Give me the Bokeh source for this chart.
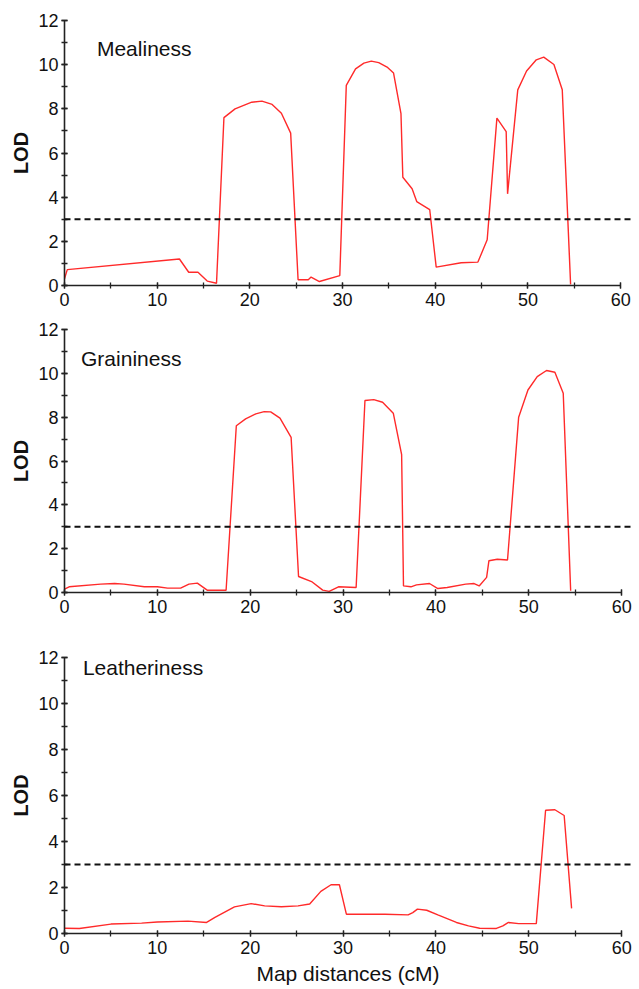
from bokeh.plotting import figure
from bokeh.layouts import column
from bokeh.models import Span, Label, SingleIntervalTicker, ColumnDataSource
from bokeh.embed import file_html
from bokeh.resources import INLINE

# ---- data ----
mealiness_x = [0, 0.3, 12.4, 13.4, 14.4, 15.4, 16.4, 17.2, 18.4, 20.2, 21.3, 22.4, 23.4, 24.4,
               25.2, 26.3, 26.6, 27.5, 29.7, 30.4, 31.4, 32.3, 33.1, 33.9, 34.8, 35.5, 36.3,
               36.5, 37.5, 38.0, 39.4, 40.1, 42.8, 44.6, 45.6, 46.65, 47.65, 47.8, 48.9, 49.85,
               50.9, 51.7, 52.8, 53.7, 54.6]
mealiness_lod = [0.3, 0.72, 1.2, 0.6, 0.6, 0.2, 0.1, 7.6, 8.0, 8.3, 8.35, 8.2, 7.8, 6.9,
                 0.26, 0.26, 0.38, 0.18, 0.45, 9.06, 9.81, 10.07, 10.16, 10.09, 9.89, 9.62, 7.78,
                 4.9, 4.38, 3.8, 3.44, 0.83, 1.03, 1.06, 2.07, 7.58, 6.97, 4.15, 8.86, 9.71,
                 10.22, 10.34, 10.01, 8.86, 0.05]

graininess_x = [0, 0.5, 3.9, 5.4, 6.4, 8.6, 10.0, 11.1, 12.5, 13.4, 14.3, 15.4, 17.4, 18.5,
                19.5, 20.6, 21.5, 22.2, 23.2, 24.4, 25.2, 26.6, 27.8, 28.5, 29.5, 31.4, 32.35,
                33.3, 34.25, 35.4, 36.3, 36.5, 37.3, 37.9, 39.3, 40.2, 41.2, 43.2, 44.1, 44.65,
                45.45, 45.7, 46.6, 47.7, 48.9, 49.9, 50.9, 51.9, 52.8, 53.7, 54.5]
graininess_lod = [0.15, 0.26, 0.38, 0.41, 0.38, 0.26, 0.26, 0.2, 0.2, 0.38, 0.43, 0.1, 0.1, 7.61,
                  7.92, 8.15, 8.25, 8.24, 7.96, 7.08, 0.73, 0.5, 0.11, 0.05, 0.26, 0.23, 8.76,
                  8.8, 8.68, 8.18, 6.29, 0.3, 0.26, 0.35, 0.41, 0.18, 0.23, 0.38, 0.41, 0.3,
                  0.69, 1.45, 1.52, 1.48, 8.0, 9.24, 9.85, 10.13, 10.05, 9.09, 0.08]

leatheriness_x = [0, 1.6, 5.0, 8.3, 10.0, 13.3, 15.3, 16.2, 18.3, 20.1, 21.55, 23.35, 25.15,
                  26.4, 27.6, 28.7, 29.6, 30.35, 34.5, 37.0, 37.5, 38.0, 39.0, 40.2, 42.2, 43.5,
                  44.7, 46.5, 47.2, 47.8, 48.9, 50.8, 51.8, 52.8, 53.8, 54.6]
leatheriness_lod = [0.23, 0.22, 0.41, 0.45, 0.5, 0.54, 0.48, 0.7, 1.16, 1.3, 1.2, 1.16, 1.2,
                    1.28, 1.83, 2.12, 2.12, 0.84, 0.84, 0.81, 0.91, 1.06, 1.01, 0.81, 0.48, 0.33,
                    0.23, 0.22, 0.33, 0.48, 0.43, 0.43, 5.36, 5.38, 5.13, 1.09]

traits = ["Mealiness", "Graininess", "Leatheriness"]
LOD_THRESHOLD = 3.0
X_MAX, Y_MAX = 60, 12

FONT = "Liberation Sans"

def make_panel(name, xs, ys, height, top, bottom, right, x_end, label_pos, xlabel=None):
    p = figure(output_backend="svg", toolbar_location=None,
               width=639, height=height,
               x_range=(0, x_end), y_range=(0, Y_MAX),
               min_border_left=64, min_border_right=right,
               min_border_top=top, min_border_bottom=bottom,
               background_fill_color="white", border_fill_color="white")
    p.outline_line_color = None
    p.grid.visible = False

    src = ColumnDataSource(dict(x=xs, y=ys))
    p.line("x", "y", source=src, line_color="#ff2a2a", line_width=1.4)
    p.add_layout(Span(location=LOD_THRESHOLD, dimension="width", line_color="#111111",
                      line_width=2, line_dash="6 4"))

    p.xaxis.ticker = SingleIntervalTicker(interval=10, num_minor_ticks=2)
    p.yaxis.ticker = SingleIntervalTicker(interval=2, num_minor_ticks=2)
    p.xaxis.bounds = (0, X_MAX)
    p.yaxis.bounds = (0, Y_MAX)
    for ax in (p.xaxis, p.yaxis):
        ax.axis_line_color = "#222222"
        ax.axis_line_width = 1.6
        ax.major_tick_line_color = "#222222"
        ax.minor_tick_line_color = "#222222"
        ax.major_tick_line_width = 1.3
        ax.minor_tick_line_width = 1.3
        ax.major_tick_in = 3
        ax.major_tick_out = 3
        ax.minor_tick_in = 3
        ax.minor_tick_out = 3
        ax.major_label_text_font = FONT
        ax.major_label_text_font_size = "18px"
        ax.major_label_text_color = "#111111"
    p.yaxis.major_label_standoff = 3
    p.xaxis.major_label_standoff = 4
    p.yaxis.axis_label = "LOD"
    p.yaxis.axis_label_text_font = FONT
    p.yaxis.axis_label_text_font_style = "bold"
    p.yaxis.axis_label_text_font_size = "20px"
    p.yaxis.axis_label_text_color = "#111111"
    p.yaxis.axis_label_standoff = 3
    if xlabel:
        p.xaxis.axis_label = xlabel
        p.xaxis.axis_label_text_font = FONT
        p.xaxis.axis_label_text_font_style = "normal"
        p.xaxis.axis_label_text_font_size = "21px"
        p.xaxis.axis_label_text_color = "#111111"
        p.xaxis.axis_label_standoff = 5

    p.add_layout(Label(x=label_pos[0], y=label_pos[1], text=name,
                       text_font=FONT, text_font_size="21px", text_color="#111111",
                       text_baseline="alphabetic"))
    return p

# total height 317 + 328 + 343 = 988
p1 = make_panel(traits[0], mealiness_x, mealiness_lod, 317, 20, 32, 2, 61.17, (3.5, 10.73))
p2 = make_panel(traits[1], graininess_x, graininess_lod, 328, 12, 53, 8, 61.05, (1.78, 10.68))
p3 = make_panel(traits[2], leatheriness_x, leatheriness_lod, 343, 12, 55, 8, 61.05, (1.98, 11.57),
                xlabel="Map distances (cM)")

layout = column(p1, p2, p3, spacing=0)
open("out.html", "w").write(file_html(layout, INLINE))
